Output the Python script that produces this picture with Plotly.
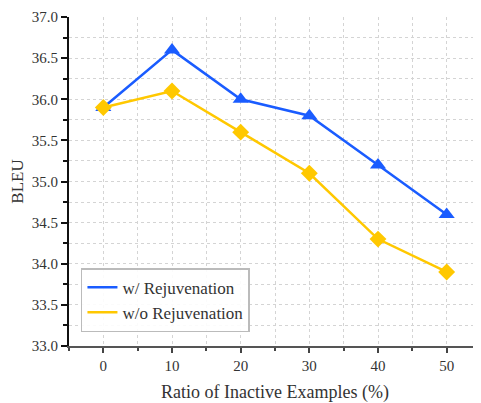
import plotly.graph_objects as go

ratios = [0, 10, 20, 30, 40, 50]
with_rejuv = [35.9, 36.6, 36.0, 35.8, 35.2, 34.6]
without_rejuv = [35.9, 36.1, 35.6, 35.1, 34.3, 33.9]
series_names = ["w/ Rejuvenation", "w/o Rejuvenation"]
y_ticks = [33.0, 33.5, 34.0, 34.5, 35.0, 35.5, 36.0, 36.5, 37.0]
x_ticks = [0, 10, 20, 30, 40, 50]

BLUE = "#1a5cff"
YELLOW = "#ffc800"
serif = "Liberation Serif"
GRID = "#d4d4d4"
TXT = "#333333"

fig = go.Figure()
fig.add_trace(go.Scatter(x=ratios, y=with_rejuv, mode="lines+markers",
                         line=dict(color=BLUE, width=2.5),
                         marker=dict(symbol="triangle-up", size=14, color=BLUE),
                         showlegend=False, cliponaxis=False))
fig.add_trace(go.Scatter(x=ratios, y=without_rejuv, mode="lines+markers",
                         line=dict(color=YELLOW, width=2.5),
                         marker=dict(symbol="diamond", size=13, color=YELLOW),
                         showlegend=False, cliponaxis=False))
for name, col in zip(series_names, [BLUE, YELLOW]):
    fig.add_trace(go.Scatter(x=[None], y=[None], mode="lines", name=name,
                             line=dict(color=col, width=2.5)))

grid = dict(showgrid=True, gridcolor=GRID, griddash="3px,3px", gridwidth=1)
fig.update_xaxes(range=[-5, 55], tickvals=x_ticks, ticks="outside", ticklen=5,
                 tickwidth=1.5, tickcolor="#444", automargin=False,
                 ticklabeloverflow="allow",
                 showline=True, linecolor="#555", linewidth=2, zeroline=False,
                 minor=dict(dtick=5, ticks="outside", ticklen=3, tickcolor="#444",
                            showgrid=True, gridcolor=GRID, griddash="3px,3px"),
                 tickfont=dict(family=serif, size=15, color=TXT),
                 title=dict(text="Ratio of Inactive Examples (%)",
                            font=dict(family=serif, size=18, color=TXT), standoff=15),
                 **grid)
fig.update_yaxes(range=[33, 37], tickvals=y_ticks, tickformat=".1f", ticks="outside",
                 ticklen=6, tickwidth=1.5, tickcolor="#111", automargin=False,
                 ticklabeloverflow="allow",
                 showline=True, linecolor="#111", linewidth=2, zeroline=False,
                 minor=dict(dtick=0.25, ticks="outside", ticklen=4, tickcolor="#111",
                            showgrid=True, gridcolor=GRID, griddash="3px,3px"),
                 tickfont=dict(family=serif, size=15, color=TXT),
                 title=dict(text="BLEU", font=dict(family=serif, size=17, color=TXT),
                            standoff=8),
                 **grid)
# the page body has an 8px margin, so the figure is sized to sit in 481x403
fig.update_layout(width=473, height=395,
                  margin=dict(l=61, r=0, t=9, b=57, autoexpand=False),
                  plot_bgcolor="white", paper_bgcolor="white",
                  legend=dict(x=0.029, y=0.042, xanchor="left", yanchor="bottom",
                              bgcolor="rgba(255,255,255,0.9)", bordercolor="#bbbbbb",
                              borderwidth=1.5, tracegroupgap=0, itemwidth=30,
                              font=dict(family=serif, size=17, color=TXT)))
fig.write_html("out.html")
